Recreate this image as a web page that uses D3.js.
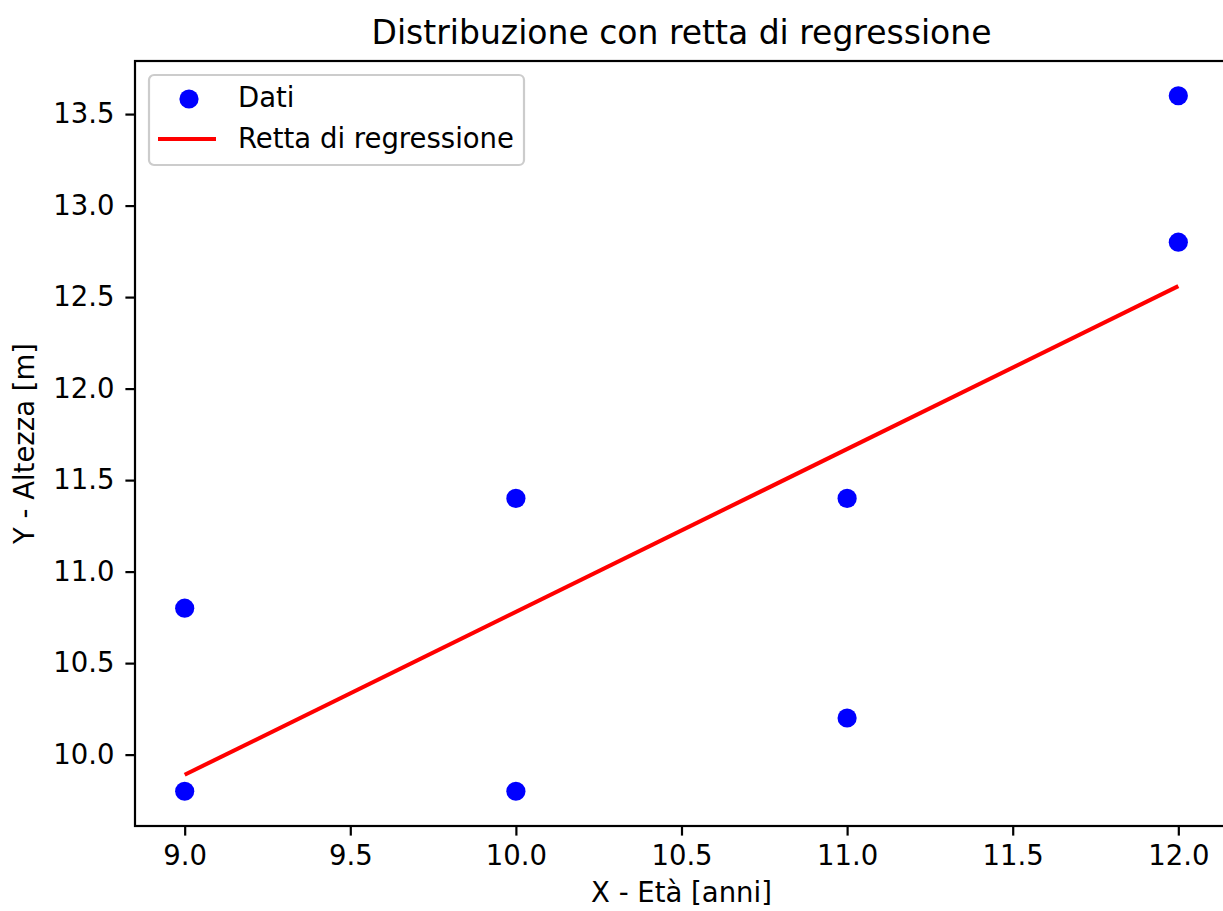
<!DOCTYPE html>
<html>
<head>
<meta charset="utf-8">
<script src="https://cdn.jsdelivr.net/npm/d3@7"></script>
<style>
  body { margin: 0; background: #fff; }
  svg { font-family: "DejaVu Sans", sans-serif; }
</style>
</head>
<body>
<svg id="chart"></svg>
<script>
// dati
var etaX     = [9, 9, 10, 10, 11, 11, 12, 12];
var altezzaY = [10.8, 9.8, 11.4, 9.8, 11.4, 10.2, 13.6, 12.8];
var rettaX   = [9, 12];
var rettaY   = [9.89, 12.56];
var xTicks   = [9.0, 9.5, 10.0, 10.5, 11.0, 11.5, 12.0];
var yTicks   = [10.0, 10.5, 11.0, 11.5, 12.0, 12.5, 13.0, 13.5];
var legenda  = ["Dati", "Retta di regressione"];

var W = 1223, H = 911;
var mLeft = 135, mRight = 1228, mTop = 61, mBottom = 826;
var fs = 27.5;

var svg = d3.select("#chart").attr("width", W).attr("height", H);

var x = d3.scaleLinear().domain([8.85, 12.15]).range([mLeft, mRight]);
var y = d3.scaleLinear().domain([9.61, 13.79]).range([mBottom, mTop]);

// assi
var gx = svg.append("g").attr("transform", "translate(0," + mBottom + ")")
    .call(d3.axisBottom(x).tickValues(xTicks).tickFormat(d3.format(".1f"))
          .tickSize(9.6).tickPadding(9.5).tickSizeOuter(0));
var gy = svg.append("g").attr("transform", "translate(" + mLeft + ",0)")
    .call(d3.axisLeft(y).tickValues(yTicks).tickFormat(d3.format(".1f"))
          .tickSize(9.6).tickPadding(11).tickSizeOuter(0));
[gx, gy].forEach(function(g){
    g.attr("font-family", "DejaVu Sans").attr("font-size", fs);
    g.select(".domain").remove();
    g.selectAll(".tick line").attr("stroke", "#000").attr("stroke-width", 2.2);
    g.selectAll(".tick text").attr("fill", "#000");
});

// cornice
svg.append("rect").attr("x", mLeft).attr("y", mTop)
    .attr("width", mRight - mLeft).attr("height", mBottom - mTop)
    .attr("fill", "none").attr("stroke", "#000").attr("stroke-width", 2.2);

// retta di regressione
var line = d3.line().x(function(d){ return x(d[0]); }).y(function(d){ return y(d[1]); });
svg.append("path").datum(d3.zip(rettaX, rettaY))
    .attr("d", line).attr("fill", "none").attr("stroke", "red").attr("stroke-width", 4.1);

// punti
svg.append("g").selectAll("circle").data(d3.zip(etaX, altezzaY)).join("circle")
    .attr("cx", function(d){ return x(d[0]); })
    .attr("cy", function(d){ return y(d[1]); })
    .attr("r", 9.6).attr("fill", "blue");

// titolo ed etichette
svg.append("text").attr("x", (mLeft + mRight) / 2).attr("y", 44)
    .attr("text-anchor", "middle").style("font-size", "33px").attr("fill", "#000")
    .text("Distribuzione con retta di regressione");
svg.append("text").attr("x", (mLeft + mRight) / 2).attr("y", 902)
    .attr("text-anchor", "middle").style("font-size", fs + "px").attr("fill", "#000")
    .text("X - Età [anni]");
svg.append("text").attr("transform", "translate(34," + (mTop + mBottom) / 2 + ") rotate(-90)")
    .attr("text-anchor", "middle").style("font-size", fs + "px").attr("fill", "#000")
    .text("Y - Altezza [m]");

// legenda
var lg = svg.append("g").attr("transform", "translate(149,75)");
lg.append("rect").attr("width", 375).attr("height", 90).attr("rx", 5)
    .attr("fill", "#fff").attr("fill-opacity", 0.8)
    .attr("stroke", "#ccc").attr("stroke-width", 2.2);
lg.append("circle").attr("cx", 40).attr("cy", 24).attr("r", 9.6).attr("fill", "blue");
lg.append("line").attr("x1", 9).attr("x2", 67).attr("y1", 64).attr("y2", 64)
    .attr("stroke", "red").attr("stroke-width", 4.1);
lg.selectAll("text.lab").data(legenda).join("text").attr("class", "lab")
    .attr("x", 89).attr("y", function(d, i){ return 32 + i * 41; })
    .style("font-size", fs + "px").attr("fill", "#000")
    .text(function(d){ return d; });
</script>
</body>
</html>
